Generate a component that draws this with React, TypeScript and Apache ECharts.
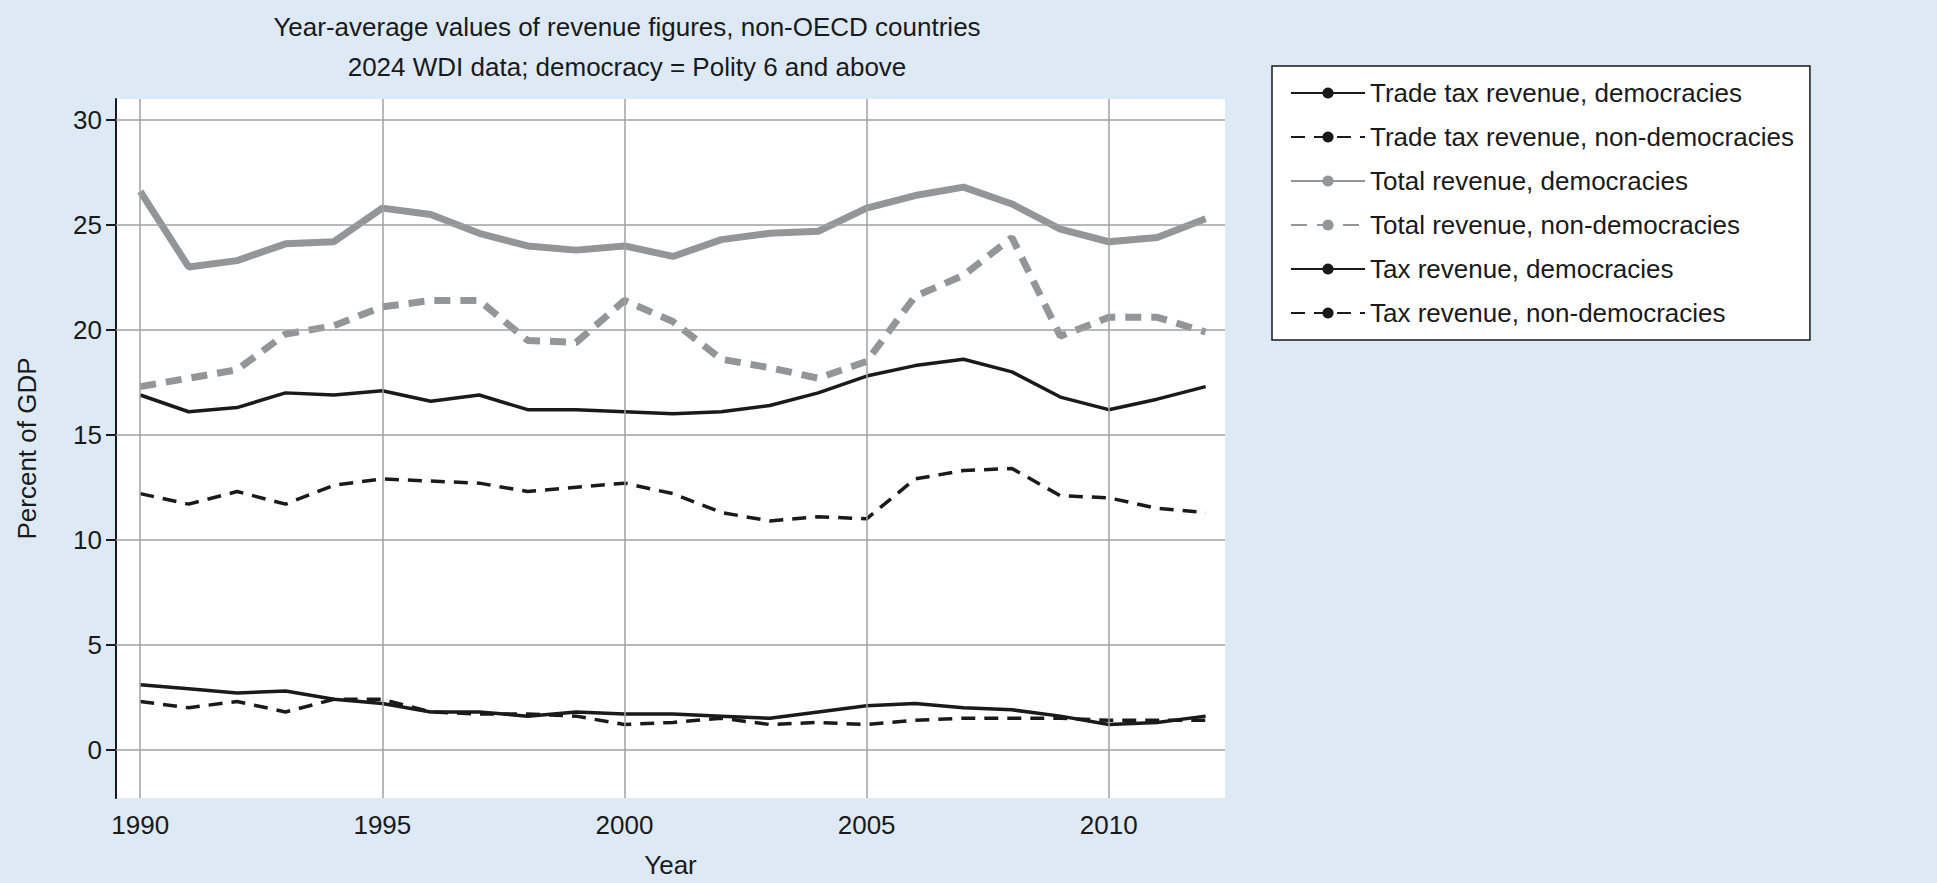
import { useEffect, useRef } from "react";
import * as echarts from "echarts";

const years = Array.from({ length: 23 }, (_, i) => 1990 + i);
const tradeDem = [3.1, 2.9, 2.7, 2.8, 2.4, 2.2, 1.8, 1.8, 1.6, 1.8, 1.7, 1.7, 1.6, 1.5, 1.8, 2.1, 2.2, 2.0, 1.9, 1.6, 1.2, 1.3, 1.6];
const tradeNonDem = [2.3, 2.0, 2.3, 1.8, 2.4, 2.4, 1.8, 1.7, 1.7, 1.6, 1.2, 1.3, 1.5, 1.2, 1.3, 1.2, 1.4, 1.5, 1.5, 1.5, 1.4, 1.4, 1.4];
const totalDem = [26.6, 23.0, 23.3, 24.1, 24.2, 25.8, 25.5, 24.6, 24.0, 23.8, 24.0, 23.5, 24.3, 24.6, 24.7, 25.8, 26.4, 26.8, 26.0, 24.8, 24.2, 24.4, 25.3];
const totalNonDem = [17.3, 17.7, 18.1, 19.8, 20.2, 21.1, 21.4, 21.4, 19.5, 19.4, 21.4, 20.4, 18.6, 18.2, 17.7, 18.5, 21.6, 22.6, 24.4, 19.7, 20.6, 20.6, 19.9];
const taxDem = [16.9, 16.1, 16.3, 17.0, 16.9, 17.1, 16.6, 16.9, 16.2, 16.2, 16.1, 16.0, 16.1, 16.4, 17.0, 17.8, 18.3, 18.6, 18.0, 16.8, 16.2, 16.7, 17.3];
const taxNonDem = [12.2, 11.7, 12.3, 11.7, 12.6, 12.9, 12.8, 12.7, 12.3, 12.5, 12.7, 12.2, 11.3, 10.9, 11.1, 11.0, 12.9, 13.3, 13.4, 12.1, 12.0, 11.5, 11.3];
const xTicks = [1990, 1995, 2000, 2005, 2010];
const yTicks = [0, 5, 10, 15, 20, 25, 30];

const FONT = "Liberation Sans";
const GRAY = "#939598";

export default function App() {
  const ref = useRef<HTMLDivElement>(null);

  useEffect(() => {
    document.body.style.margin = "0";
    if (!ref.current) return;
    const chart = echarts.init(ref.current, null, { renderer: "svg" });

    const mk = (name: string, data: number[], color: string, width: number, dashed: number[] | null) => ({
      name,
      type: "line",
      data: data.map((v, i) => [years[i], v]),
      symbol: "none",
      z: 3,
      lineStyle: { color, width, type: dashed ? dashed : "solid" },
      itemStyle: { color }
    });

    const gridLines = {
      silent: true,
      symbol: ["none", "none"],
      label: { show: false },
      lineStyle: { color: "#a0a0a0", width: 1.5, type: "solid" },
      data: [...xTicks.map(v => ({ xAxis: v })), ...yTicks.map(v => ({ yAxis: v }))]
    };

    const series: any[] = [
      mk("Trade tax revenue, democracies", tradeDem, "#1a1a1a", 3.5, null),
      mk("Trade tax revenue, non-democracies", tradeNonDem, "#1a1a1a", 3.5, [14, 9]),
      mk("Total revenue, democracies", totalDem, GRAY, 7, null),
      mk("Total revenue, non-democracies", totalNonDem, GRAY, 7, [16, 10]),
      mk("Tax revenue, democracies", taxDem, "#1a1a1a", 3.5, null),
      mk("Tax revenue, non-democracies", taxNonDem, "#1a1a1a", 3.5, [14, 9])
    ];
    series[0].markLine = gridLines;

    chart.setOption({
      animation: false,
      backgroundColor: "#dde9f5",
      textStyle: { fontFamily: FONT },
      title: {
        text: "Year-average values of revenue figures, non-OECD countries\n2024 WDI data; democracy = Polity 6 and above",
        left: 622,
        top: 2,
        textAlign: "center",
        textStyle: { fontFamily: FONT, fontSize: 26, fontWeight: "normal", color: "#1a1a1a", lineHeight: 40 }
      },
      legend: {
        left: 1272,
        top: 66,
        orient: "vertical",
        backgroundColor: "#fff",
        borderColor: "#1a1a1a",
        borderWidth: 1.5,
        borderRadius: 0,
        padding: [14, 16, 14, 18],
        itemWidth: 74,
        itemHeight: 14,
        itemGap: 18,
        textStyle: { fontFamily: FONT, fontSize: 26, color: "#1a1a1a" }
      },
      grid: {
        left: 116,
        right: 712,
        top: 99,
        bottom: 80,
        show: true,
        backgroundColor: "#fff",
        borderWidth: 0
      },
      xAxis: {
        type: "value",
        min: 1989.5,
        max: 2012.4,
        name: "Year",
        nameLocation: "middle",
        nameGap: 54,
        nameTextStyle: { fontFamily: FONT, fontSize: 26, color: "#1a1a1a" },
        axisLine: { show: false },
        axisTick: { show: false },
        splitLine: { show: false },
        axisLabel: {
          customValues: xTicks,
          formatter: (v: number) => String(v),
          fontFamily: FONT,
          fontSize: 26,
          color: "#1a1a1a",
          margin: 14
        }
      },
      yAxis: {
        type: "value",
        min: -2.3,
        max: 31,
        name: "Percent of GDP",
        nameLocation: "middle",
        nameGap: 76,
        nameTextStyle: { fontFamily: FONT, fontSize: 26, color: "#1a1a1a" },
        axisLine: { show: true, lineStyle: { color: "#1a1a1a", width: 2 } },
        axisTick: { show: true, customValues: yTicks, length: 10, lineStyle: { color: "#1a1a1a", width: 2 } },
        splitLine: { show: false },
        axisLabel: { customValues: yTicks, fontFamily: FONT, fontSize: 26, color: "#1a1a1a", margin: 14 }
      },
      series
    });

    return () => chart.dispose();
  }, []);

  return <div ref={ref} style={{ width: 1937, height: 883 }} />;
}
